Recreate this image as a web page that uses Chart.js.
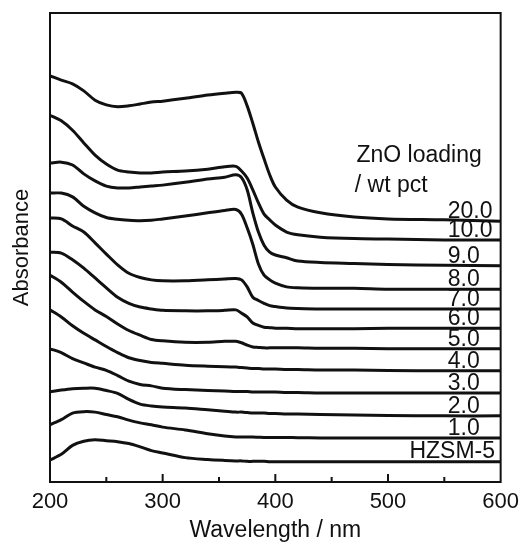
<!DOCTYPE html>
<html>
<head>
<meta charset="utf-8">
<script src="https://cdn.jsdelivr.net/npm/chart.js@4.4.1/dist/chart.umd.min.js"></script>
<style>
  html, body { margin: 0; padding: 0; background: #fff; }
  #wrap { width: 526px; height: 542px; }
</style>
</head>
<body>
<div id="wrap"><canvas id="uvChart" width="526" height="542"></canvas></div>
<script>
// Wavelength grid (nm) shared by every spectrum
const wavelengths = [200, 210, 220, 230, 240, 250, 260, 270, 280, 290, 300, 320, 340, 355, 365,
  370, 375, 380, 385, 390, 395, 400, 410, 420, 440, 470, 500, 550, 600];

// Stacked absorbance (arbitrary units, offset per sample)
const zn20 = [86.6, 85.7, 84.9, 83.4, 81.4, 80.4, 80.0, 80.2, 80.6, 81.0, 81.2, 81.8, 82.5, 82.9, 83.1,
  82.9, 80.2, 76.5, 72.5, 68.9, 65.5, 62.9, 60.1, 58.6, 57.4, 56.5, 56.1, 55.9, 55.6];
const zn10 = [78.2, 77.0, 75.0, 72.3, 69.7, 67.8, 66.5, 66.1, 65.9, 65.9, 66.1, 66.3, 66.7, 67.2, 67.3,
  66.3, 64.8, 62.3, 59.5, 57.1, 55.9, 54.8, 53.3, 52.7, 52.2, 51.9, 51.8, 51.6, 51.6];
const zn9 = [68.0, 68.2, 67.6, 65.7, 64.2, 63.1, 62.7, 62.7, 62.9, 63.1, 63.3, 63.9, 64.6, 65.0, 65.5,
  64.9, 62.3, 57.4, 53.3, 50.5, 49.0, 48.4, 47.8, 47.1, 46.8, 46.6, 46.4, 46.2, 46.1];
const zn8 = [61.6, 61.6, 60.8, 58.8, 57.4, 56.4, 56.0, 55.8, 55.7, 55.8, 56.1, 56.7, 57.4, 57.9, 58.1,
  57.1, 54.2, 50.7, 46.5, 44.1, 43.1, 42.4, 41.6, 41.4, 41.3, 41.3, 41.1, 41.1, 41.1];
const zn7 = [56.3, 56.1, 54.6, 53.3, 51.0, 48.6, 46.3, 44.5, 43.6, 43.1, 42.9, 42.9, 43.1, 43.3, 43.4,
  43.1, 41.6, 39.4, 38.7, 38.1, 37.6, 37.4, 37.1, 37.0, 36.9, 36.9, 36.9, 36.9, 36.9];
const zn6 = [49.0, 48.8, 47.4, 45.6, 43.5, 41.4, 39.4, 38.1, 37.3, 36.9, 36.6, 36.5, 36.5, 36.6, 36.7,
  36.0, 35.2, 33.9, 33.4, 33.0, 32.9, 32.8, 32.8, 32.7, 32.7, 32.7, 32.8, 32.8, 32.8];
const zn5 = [44.1, 42.6, 40.5, 38.5, 36.7, 35.3, 33.7, 32.3, 31.3, 30.4, 30.1, 29.8, 29.8, 30.0, 30.0,
  29.7, 29.2, 28.8, 28.7, 28.6, 28.6, 28.6, 28.6, 28.6, 28.5, 28.5, 28.4, 28.4, 28.4];
const zn4 = [36.7, 35.2, 33.3, 31.7, 30.3, 28.9, 27.6, 26.5, 25.9, 25.5, 25.3, 24.9, 24.7, 24.6, 24.5,
  24.4, 24.3, 24.2, 24.2, 24.1, 24.1, 24.1, 24.0, 24.0, 23.9, 23.9, 23.8, 23.7, 23.7];
const zn3 = [28.4, 27.6, 26.3, 25.4, 24.5, 23.8, 22.7, 21.5, 20.8, 20.5, 20.0, 19.7, 19.5, 19.4, 19.3,
  19.3, 19.3, 19.2, 19.2, 19.2, 19.2, 19.2, 19.1, 19.1, 19.0, 19.0, 19.0, 19.0, 19.0];
const zn2 = [19.2, 19.6, 19.9, 20.0, 20.0, 19.5, 18.9, 17.6, 16.6, 16.2, 16.0, 15.8, 15.4, 15.1, 14.9,
  14.9, 14.8, 14.7, 14.7, 14.7, 14.6, 14.6, 14.5, 14.5, 14.4, 14.3, 14.2, 14.1, 14.1];
const zn1 = [12.2, 13.3, 14.7, 15.0, 14.9, 14.4, 13.9, 13.2, 12.6, 12.2, 11.7, 11.1, 10.3, 9.8, 9.6,
  9.6, 9.6, 9.6, 9.55, 9.5, 9.5, 9.5, 9.5, 9.45, 9.4, 9.4, 9.4, 9.4, 9.4];
const hzsm5 = [4.7, 5.9, 7.8, 8.7, 9.0, 8.8, 8.6, 8.2, 7.5, 6.7, 6.2, 5.2, 4.8, 4.6, 4.5,
  4.5, 4.4, 4.4, 4.4, 4.4, 4.3, 4.3, 4.3, 4.3, 4.3, 4.3, 4.3, 4.3, 4.3];

const seriesLabels = ["20.0", "10.0", "9.0", "8.0", "7.0", "6.0", "5.0", "4.0", "3.0", "2.0", "1.0", "HZSM-5"];
const seriesValues = [zn20, zn10, zn9, zn8, zn7, zn6, zn5, zn4, zn3, zn2, zn1, hzsm5];
const headerLines = ["ZnO loading", "/ wt pct"];
const minorTicks = [250, 300, 350, 400, 450, 500, 550];

const FONT = "'Liberation Sans', Arial, sans-serif";
const INK = "#111";

const framePlugin = {
  id: "frameAndLabels",
  afterDatasetsDraw(chart) {
    const { ctx, chartArea: a, scales: { x, y } } = chart;
    ctx.save();
    ctx.strokeStyle = INK;
    ctx.lineWidth = 2;
    ctx.strokeRect(a.left, a.top, a.right - a.left, a.bottom - a.top);

    // inward ticks on the bottom axis
    minorTicks.forEach(v => {
      const px = x.getPixelForValue(v);
      const len = v % 100 === 0 ? 8 : 5;
      ctx.beginPath();
      ctx.moveTo(px, a.bottom);
      ctx.lineTo(px, a.bottom - len);
      ctx.stroke();
    });

    // sample labels sitting on the right-hand tails
    ctx.fillStyle = INK;
    ctx.font = `23px ${FONT}`;
    ctx.textBaseline = "alphabetic";
    seriesLabels.forEach((label, i) => {
      const vals = seriesValues[i];
      const py = y.getPixelForValue(vals[vals.length - 1]) - 3;
      if (label === "HZSM-5") {
        ctx.textAlign = "right";
        ctx.fillText(label, x.getPixelForValue(595), py - 1);
      } else {
        ctx.textAlign = "left";
        ctx.fillText(label, x.getPixelForValue(553), py);
      }
    });

    ctx.textAlign = "left";
    ctx.textBaseline = "middle";
    ctx.fillText(headerLines[0], x.getPixelForValue(472), y.getPixelForValue(69.5));
    ctx.fillText(headerLines[1], x.getPixelForValue(470.5), y.getPixelForValue(63.1));
    ctx.restore();
  }
};

new Chart(document.getElementById("uvChart"), {
  type: "line",
  data: {
    labels: wavelengths,
    datasets: seriesLabels.map((label, i) => ({
      label: label,
      data: wavelengths.map((w, j) => ({ x: w, y: seriesValues[i][j] })),
      borderColor: INK,
      borderWidth: 3,
      pointRadius: 0,
      fill: false,
      tension: 0.3
    }))
  },
  options: {
    responsive: false,
    animation: false,
    events: [],
    layout: { padding: { top: 13, right: 25, left: 0, bottom: 0 } },
    plugins: {
      legend: { display: false },
      tooltip: { enabled: false }
    },
    scales: {
      x: {
        type: "linear",
        min: 200,
        max: 600,
        border: { display: false },
        grid: { display: false, drawTicks: false },
        ticks: { stepSize: 100, color: INK, padding: 7, maxRotation: 0, font: { family: FONT, size: 22 } },
        title: {
          display: true,
          text: "Wavelength / nm",
          color: INK,
          font: { family: FONT, size: 23, lineHeight: 1 },
          padding: { top: 0, bottom: 0 }
        },
        afterFit(scale) { scale.height = 60; }
      },
      y: {
        min: 0,
        max: 100,
        border: { display: false },
        grid: { display: false, drawTicks: false },
        ticks: { display: false },
        title: {
          display: true,
          text: "Absorbance",
          color: INK,
          font: { family: FONT, size: 22, lineHeight: 1 },
          padding: { top: 11, bottom: 0 }
        },
        afterFit(scale) { scale.width = 50; }
      }
    }
  },
  plugins: [framePlugin]
});
</script>
</body>
</html>
